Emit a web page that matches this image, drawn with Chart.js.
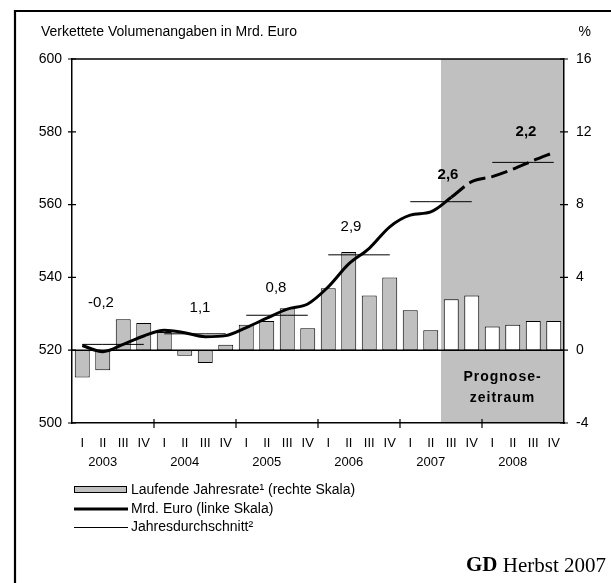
<!DOCTYPE html>
<html>
<head>
<meta charset="utf-8">
<script src="https://cdn.jsdelivr.net/npm/chart.js@4"></script>
<style>
html,body{margin:0;padding:0;background:#fff;}
#wrap{width:611px;height:583px;position:relative;}
</style>
</head>
<body>
<div id="wrap"><canvas id="c"></canvas></div>
<script>
// ---- data ----
const quarterLabels = ["I","II","III","IV","I","II","III","IV","I","II","III","IV",
                       "I","II","III","IV","I","II","III","IV","I","II","III","IV"];
const years = ["2003","2004","2005","2006","2007","2008"];
// Laufende Jahresrate (%), rechte Skala
const growthRate = [-1.5,-1.1,1.7,1.5, 1.0,-0.3,-0.7,0.3, 1.4,1.6,2.3,1.2,
                    3.4,5.4,3.0,4.0, 2.2,1.1,2.8,3.0, 1.3,1.4,1.6,1.6];
// Mrd. Euro, linke Skala
const gdp = [521.3,519.6,521.6,523.9, 525.5,524.8,523.7,524.0, 526.2,528.8,531.3,532.7,
             537.4,543.7,548.0,553.9, 557.1,558.0,562.0,566.3, 567.7,569.7,572.1,574.3];
// Jahresdurchschnitt (Mrd. Euro)
const annualAvg = [521.6,524.5,529.6,546.2,560.8,571.6];
// Jahresveränderungsraten
const annualGrowthLabels = ["-0,2","1,1","0,8","2,9","2,6","2,2"];
const boldLabelYears = ["2007","2008"];
const forecastStartIndex = 18; // 2007 III
const leftTicks = {min:500, max:600, step:20};
const rightTicks = {min:-4, max:16, step:4};

const xLabels = quarterLabels.map((q,i)=> i%4===1 ? [q, years[Math.floor(i/4)]] : [q, ""]);
const avgQuarterly = quarterLabels.map((q,i)=> annualAvg[Math.floor(i/4)]);

const FONT = "'Liberation Sans', Arial, sans-serif";
Chart.defaults.font.family = FONT;
Chart.defaults.color = '#000';

const deco = {
  id:'deco',
  beforeDraw(chart){
    const {ctx, chartArea:a, scales:{x}} = chart;
    ctx.save();
    ctx.fillStyle='#fff'; ctx.fillRect(0,0,chart.width,chart.height);
    const half = (x.getPixelForValue(1)-x.getPixelForValue(0))/2;
    const sx = x.getPixelForValue(forecastStartIndex) - half;
    ctx.fillStyle='#c0c0c0';
    ctx.fillRect(sx, a.top, a.right - sx, a.bottom - a.top);
    // frame
    ctx.strokeStyle='#000'; ctx.lineWidth=2.2;
    ctx.beginPath(); ctx.moveTo(15, chart.height+3); ctx.lineTo(15, 11); ctx.lineTo(chart.width+3, 11); ctx.stroke();
    // header
    ctx.fillStyle='#000'; ctx.textBaseline='middle';
    ctx.font = "14px " + FONT;
    ctx.textAlign='left'; ctx.fillText("Verkettete Volumenangaben in Mrd. Euro", 41, 32);
    ctx.textAlign='right'; ctx.fillText("%", 591, 32);
    ctx.restore();
  },
  beforeDatasetsDraw(chart){
    const {ctx, chartArea:a, scales:{x,yL,yR}} = chart;
    ctx.save();
    ctx.strokeStyle='#000';
    ctx.lineWidth=1.5;
    const y0 = yR.getPixelForValue(0);
    ctx.beginPath();
    ctx.moveTo(a.left, y0); ctx.lineTo(a.right, y0);
    ctx.moveTo(a.left, a.top); ctx.lineTo(a.right, a.top);
    ctx.stroke();
    // tick marks crossing axes
    ctx.lineWidth=1.2;
    ctx.beginPath();
    for(let v=leftTicks.min; v<=leftTicks.max; v+=leftTicks.step){
      const py = yL.getPixelForValue(v);
      ctx.moveTo(a.left-4, py); ctx.lineTo(a.left+4, py);
    }
    for(let v=rightTicks.min; v<=rightTicks.max; v+=rightTicks.step){
      const py = yR.getPixelForValue(v);
      ctx.moveTo(a.right-4, py); ctx.lineTo(a.right+4, py);
    }
    for(let k=4; k<quarterLabels.length; k+=4){
      const px = (x.getPixelForValue(k-1)+x.getPixelForValue(k))/2;
      ctx.moveTo(px, a.bottom-4); ctx.lineTo(px, a.bottom+5);
    }
    ctx.stroke();
    ctx.restore();
  },
  afterDatasetsDraw(chart){
    const {ctx, chartArea:a, scales:{x,yL}} = chart;
    ctx.save();
    ctx.fillStyle='#000'; ctx.textAlign='center'; ctx.textBaseline='middle';
    const dx = [-12, 5, -1, -8, 7, 3];
    const dy = [42, 26, 27, 28, 27, 31];
    years.forEach((yr,i)=>{
      const cx = (x.getPixelForValue(4*i+1)+x.getPixelForValue(4*i+2))/2 + dx[i];
      const cy = yL.getPixelForValue(annualAvg[i]) - dy[i];
      ctx.font = (boldLabelYears.includes(yr) ? "bold " : "") + "15px " + FONT;
      ctx.fillText(annualGrowthLabels[i], cx, cy);
    });
    // Prognosezeitraum
    const half = (x.getPixelForValue(1)-x.getPixelForValue(0))/2;
    const sx = x.getPixelForValue(forecastStartIndex) - half;
    const mx = (sx + a.right)/2;
    ctx.font = "bold 14px " + FONT;
    try { ctx.letterSpacing = "1px"; } catch(e){}
    ctx.fillText("Prognose-", mx, 377);
    ctx.fillText("zeitraum", mx, 398);
    ctx.restore();
  },
  afterDraw(chart){
    const {ctx} = chart;
    const ds = chart.data.datasets;
    ctx.save();
    ctx.textBaseline='middle'; ctx.textAlign='left'; ctx.fillStyle='#000';
    ctx.font = "14px " + FONT;
    // row 1: bars
    ctx.fillStyle='#c0c0c0'; ctx.fillRect(74.5, 486.5, 52, 6);
    ctx.strokeStyle='#000'; ctx.lineWidth=1; ctx.strokeRect(74.5, 486.5, 52, 6);
    ctx.fillStyle='#000';
    ctx.fillText(ds[2].label, 131, 490);
    // row 2: line
    ctx.lineWidth=3; ctx.beginPath(); ctx.moveTo(74, 509); ctx.lineTo(128, 509); ctx.stroke();
    ctx.fillText(ds[0].label, 131, 509);
    // row 3: avg
    ctx.lineWidth=1; ctx.beginPath(); ctx.moveTo(74, 527.5); ctx.lineTo(128, 527.5); ctx.stroke();
    ctx.fillText(ds[1].label, 131, 527);
    // footer
    ctx.font = "21px 'Liberation Serif', 'Times New Roman', serif";
    ctx.textAlign='right';
    const rest = " Herbst 2007";
    const wRest = ctx.measureText(rest).width;
    ctx.fillText(rest, 606, 566);
    ctx.font = "bold 21px 'Liberation Serif', 'Times New Roman', serif";
    ctx.fillText("GD", 606 - wRest, 566);
    ctx.restore();
  }
};

new Chart(document.getElementById('c'), {
  data: {
    labels: xLabels,
    datasets: [
      {type:'line', label:'Mrd. Euro (linke Skala)', data: gdp, yAxisID:'yL',
       borderColor:'#000', borderWidth:3, pointRadius:0, cubicInterpolationMode:'monotone',
       borderCapStyle:'butt', order:0,
       segment:{borderDash: c => c.p0DataIndex >= forecastStartIndex ? [17,6] : undefined}},
      {type:'line', label:'Jahresdurchschnitt²', data: avgQuarterly, yAxisID:'yL',
       borderColor:'#000', borderWidth:1, pointRadius:0, tension:0, order:1,
       segment:{borderColor: c => (c.p0DataIndex % 4 === 3) ? 'rgba(0,0,0,0)' : '#000'}},
      {type:'bar', label:'Laufende Jahresrate¹ (rechte Skala)', data: growthRate, yAxisID:'yR',
       backgroundColor: growthRate.map((v,i)=> i>=forecastStartIndex ? '#ffffff' : '#c0c0c0'),
       borderColor:'#000', borderWidth:1, borderSkipped:false,
       barPercentage:0.73, categoryPercentage:1, order:2}
    ]
  },
  options: {
    responsive:true, maintainAspectRatio:false, animation:false,
    layout:{padding:{top:59,left:0,right:0,bottom:0}},
    plugins:{legend:{display:false}, tooltip:{enabled:false}},
    scales:{
      x:{type:'category', offset:true,
         grid:{display:false, drawTicks:false},
         border:{display:true, color:'#000', width:1.5},
         ticks:{autoSkip:false, maxRotation:0, minRotation:0, padding:10.5,
                font:{size:13, lineHeight:'19px'}, color:'#000'},
         afterFit: s => { s.height = 160; }},
      yL:{position:'left', min:leftTicks.min, max:leftTicks.max,
          ticks:{stepSize:leftTicks.step, padding:10, font:{size:14}, color:'#000'},
          grid:{display:false, drawTicks:false},
          border:{color:'#000', width:1.5},
          afterFit: s => { s.width = 72; }},
      yR:{position:'right', min:rightTicks.min, max:rightTicks.max,
          ticks:{stepSize:rightTicks.step, padding:12, font:{size:14}, color:'#000'},
          grid:{display:false, drawTicks:false},
          border:{color:'#000', width:1.5},
          afterFit: s => { s.width = 47; }}
    }
  },
  plugins:[deco]
});
</script>
</body>
</html>
